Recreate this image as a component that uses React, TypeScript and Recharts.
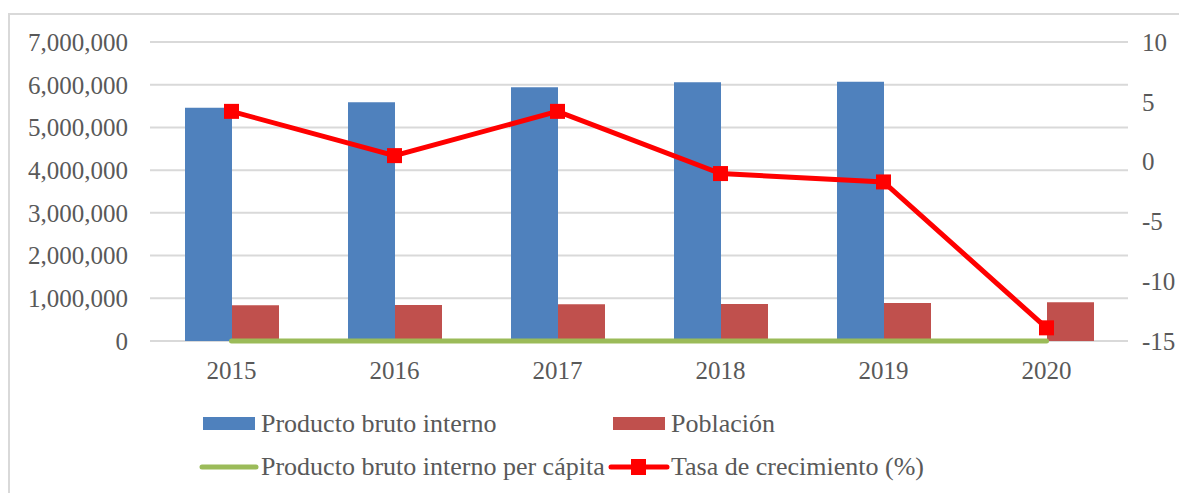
import React from "react";
import {
  ComposedChart,
  Bar,
  Line,
  XAxis,
  YAxis,
  CartesianGrid,
  Legend,
} from "recharts";

const years = ["2015", "2016", "2017", "2018", "2019", "2020"];
const pbi: (number | null)[] = [5460000, 5590000, 5940000, 6060000, 6070000, null];
const poblacion = [835000, 843000, 859000, 866000, 890000, 905000];
const pbiPerCapita = [6.54, 6.63, 6.92, 7.0, 6.82, 0];
const tasaCrecimiento = [4.2, 0.5, 4.2, -1.0, -1.7, -13.9];

const leftTicks = [0, 1000000, 2000000, 3000000, 4000000, 5000000, 6000000, 7000000];
const rightTicks = [-15, -10, -5, 0, 5, 10];

const data = years.map((y, i) => ({
  year: y,
  pbi: pbi[i],
  poblacion: poblacion[i],
  perCapita: pbiPerCapita[i],
  tasa: tasaCrecimiento[i],
}));

const FONT = "'Liberation Serif', 'Times New Roman', serif";
const TEXT = "#595959";
const BLUE = "#4F81BD";
const RED_BAR = "#C0504D";
const GREEN = "#9BBB59";
const RED = "#FF0000";

const fmt = (v: number) => v.toLocaleString("en-US");

const SquareDot = (props: any) => {
  const { cx, cy, index } = props;
  if (cx == null || cy == null) return <g key={index} />;
  return <rect key={index} x={cx - 7.5} y={cy - 7.5} width={15} height={15} fill={RED} />;
};

const legendText: React.CSSProperties = {
  position: "absolute",
  fontFamily: FONT,
  fontSize: 26,
  color: TEXT,
  whiteSpace: "nowrap",
  lineHeight: "30px",
  transform: "translateY(-50%)",
};

const CustomLegend = () => (
  <div style={{ position: "relative", height: 0, width: 0 }}>
    <svg style={{ position: "absolute", left: 192.7, top: 402 }} width={53} height={13}>
      <rect x={0} y={0} width={52} height={13} fill={BLUE} />
    </svg>
    <div style={{ ...legendText, left: 251, top: 408.5 }}>Producto bruto interno</div>
    <svg style={{ position: "absolute", left: 602.7, top: 402 }} width={53} height={13}>
      <rect x={0} y={0} width={52} height={13} fill={RED_BAR} />
    </svg>
    <div style={{ ...legendText, left: 661, top: 408.5 }}>Población</div>
    <svg style={{ position: "absolute", left: 189, top: 442 }} width={60} height={20}>
      <line x1={3} y1={10} x2={57} y2={10} stroke={GREEN} strokeWidth={5} strokeLinecap="round" />
    </svg>
    <div style={{ ...legendText, left: 251, top: 452 }}>Producto bruto interno per cápita</div>
    <svg style={{ position: "absolute", left: 598, top: 442 }} width={62} height={20}>
      <line x1={3} y1={10} x2={59} y2={10} stroke={RED} strokeWidth={5} strokeLinecap="round" />
      <rect x={23} y={2} width={15} height={16} fill={RED} />
    </svg>
    <div style={{ ...legendText, left: 661, top: 452 }}>Tasa de crecimiento (%)</div>
  </div>
);

export default function App() {
  return (
    <>
      <style>{"html,body{overflow:hidden;}"}</style>
      <div
        style={{
          marginTop: 5,
          width: 1177,
          height: 478,
          borderTop: "2px solid #D9D9D9",
          borderLeft: "2px solid #D9D9D9",
          position: "relative",
        }}
      >
        <ComposedChart
          width={1177}
          height={478}
          data={data}
          margin={{ top: 27, right: 0, bottom: 92, left: 0 }}
          barGap={0}
        >
          <CartesianGrid
            yAxisId="left"
            vertical={false}
            stroke="#D9D9D9"
            strokeWidth={2}
          />
          <XAxis
            dataKey="year"
            axisLine={false}
            tickLine={false}
            tickSize={1}
            tickMargin={19}
            height={60}
            tick={{ fill: TEXT, fontSize: 25, fontFamily: FONT }}
          />
          <YAxis
            yAxisId="left"
            orientation="left"
            width={140}
            domain={[0, 7000000]}
            ticks={leftTicks}
            interval={0}
            axisLine={false}
            tickLine={false}
            tickSize={1}
            tickMargin={21}
            tickFormatter={fmt}
            tick={{ fill: TEXT, fontSize: 25, fontFamily: FONT }}
          />
          <YAxis
            yAxisId="right"
            orientation="right"
            width={59}
            domain={[-15, 10]}
            ticks={rightTicks}
            interval={0}
            axisLine={false}
            tickLine={false}
            tickSize={1}
            tickMargin={13}
            tick={{ fill: TEXT, fontSize: 25, fontFamily: FONT, textAnchor: "start" }}
          />
          <Bar
            yAxisId="left"
            dataKey="pbi"
            name="Producto bruto interno"
            fill={BLUE}
            barSize={47}
            isAnimationActive={false}
          />
          <Bar
            yAxisId="left"
            dataKey="poblacion"
            name="Población"
            fill={RED_BAR}
            barSize={47}
            isAnimationActive={false}
          />
          <Line
            yAxisId="left"
            dataKey="perCapita"
            name="Producto bruto interno per cápita"
            stroke={GREEN}
            strokeWidth={5}
            strokeLinecap="round"
            dot={false}
            isAnimationActive={false}
          />
          <Line
            yAxisId="right"
            dataKey="tasa"
            name="Tasa de crecimiento (%)"
            stroke={RED}
            strokeWidth={5}
            dot={SquareDot}
            activeDot={false}
            isAnimationActive={false}
          />
          <Legend
            content={<CustomLegend />}
            wrapperStyle={{ left: 0, top: 0, width: 0, height: 0, margin: 0, padding: 0 }}
          />
        </ComposedChart>
      </div>
    </>
  );
}
